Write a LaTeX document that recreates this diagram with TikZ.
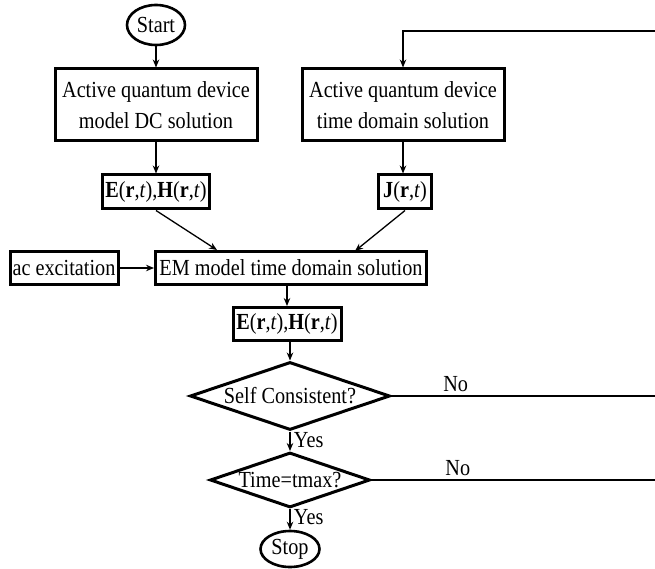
\documentclass[tikz,border=0pt]{standalone}
\usepackage{fontspec}
\setmainfont{Liberation Serif}[FakeStretch=0.88]
\usepackage{tikz}
\usetikzlibrary{shapes.geometric,arrows.meta}

\begin{document}
\begin{tikzpicture}[x=1pt,y=-1pt,line width=1.3pt,
	txt/.style={font=\fontsize{23}{31}\selectfont},
	blk/.style={txt,draw,line width=3pt,inner sep=0pt,align=center},
	term/.style={txt,draw,line width=2.6pt,ellipse,inner sep=0pt},
	test/.style={txt,draw,line width=3pt,diamond,inner sep=0pt},
	arr/.style={-{Stealth[length=8pt,width=6.5pt]}}]
	\useasboundingbox (0,0) rectangle (655,569);
	% start and the two device models
	\node[term,minimum width=58pt,minimum height=40pt] (start) at (156,25) {Start};
	\node[blk,minimum width=202pt,minimum height=72pt] (dc) at (156,105) {Active quantum device\\model DC solution};
	\node[blk,minimum width=202pt,minimum height=72pt] (td) at (403,105) {Active quantum device\\time domain solution};
	\node[blk,minimum width=107pt,minimum height=34pt] (eh1) at (156,192) {\textbf{E}(\textbf{r},\textit{t}),\textbf{H}(\textbf{r},\textit{t})};
	\node[blk,minimum width=53pt,minimum height=34pt] (jj) at (405,192) {\textbf{J}(\textbf{r},\textit{t})};
	% EM solver
	\node[blk,minimum width=108pt,minimum height=33pt] (ac) at (64,268) {ac excitation};
	\node[blk,minimum width=271pt,minimum height=33pt] (em) at (291,268) {EM model time domain solution};
	\node[blk,minimum width=108pt,minimum height=33pt] (eh2) at (287,324) {\textbf{E}(\textbf{r},\textit{t}),\textbf{H}(\textbf{r},\textit{t})};
	% tests and stop
	\node[test,minimum width=200pt,minimum height=68pt,aspect=2.94] (sc) at (290,396) {Self Consistent?};
	\node[test,minimum width=160pt,minimum height=55pt,aspect=2.9] (tm) at (290,480) {Time=tmax?};
	\node[term,minimum width=59pt,minimum height=36pt] (stop) at (290,549) {Stop};
	\coordinate (rtop) at (659,31);
	\coordinate (rmid) at (659,396);
	\coordinate (rlow) at (659,480);

	\draw[arr] (start) -- (dc);
	\draw[arr] (dc) -- (eh1);
	\draw[arr] (td.south) -- (td.south |- jj.north);
	\draw[arr] (eh1.south) -- (217,250);
	\draw[arr] (jj.south) -- (355,251);
	\draw[arr] (ac) -- (em);
	\draw[arr] (em.south -| eh2) -- (eh2);
	\draw[arr] (eh2.south -| sc) -- (sc.north);
	\draw[arr] (sc) -- (tm) node[txt,pos=0.45,right]{Yes};
	\draw[arr] (tm) -- (stop) node[txt,pos=0.4,right]{Yes};
	% back to the device model
	\draw (sc.east) -- (rmid) node[txt,pos=0.24,above]{No};
	\draw (tm.east) -- (rlow) node[txt,pos=0.3,above]{No};
	\draw[arr] (rlow) -- (rtop) -| (td.north);
\end{tikzpicture}
\end{document}
